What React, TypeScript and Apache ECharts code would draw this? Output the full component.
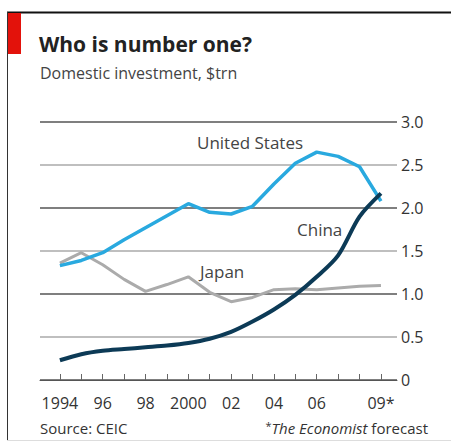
import React, { useEffect, useRef } from "react";
import * as echarts from "echarts";

const years = [1994, 1995, 1996, 1997, 1998, 1999, 2000, 2001, 2002, 2003, 2004, 2005, 2006, 2007, 2008, 2009];
const unitedStates = [1.33, 1.39, 1.48, 1.63, 1.77, 1.91, 2.05, 1.95, 1.93, 2.02, 2.28, 2.52, 2.65, 2.6, 2.48, 2.08];
const japan = [1.36, 1.48, 1.34, 1.17, 1.03, 1.11, 1.2, 1.02, 0.91, 0.96, 1.05, 1.06, 1.05, 1.07, 1.09, 1.1];
const china = [0.23, 0.3, 0.34, 0.36, 0.38, 0.4, 0.43, 0.48, 0.56, 0.68, 0.82, 0.99, 1.2, 1.45, 1.9, 2.17];
const xLabelYears = [1994, 1996, 1998, 2000, 2002, 2004, 2006, 2009];
const xLabelText: Record<number, string> = { 1994: "1994", 1996: "96", 1998: "98", 2000: "2000", 2002: "02", 2004: "04", 2006: "06", 2009: "09*" };

const FONT = "'Open Sans', sans-serif";

export default function App() {
  const ref = useRef<HTMLDivElement>(null);
  useEffect(() => {
    const chart = echarts.init(ref.current!, null, { renderer: "svg" });
    const pair = (arr: number[]) => years.map((y, i) => [y, arr[i]]);
    chart.setOption({
      animation: false,
      backgroundColor: "#ffffff",
      textStyle: { fontFamily: FONT },
      grid: { left: 40, right: 54, top: 122, bottom: 63, containLabel: false },
      xAxis: {
        type: "value",
        min: 1993.07,
        max: 2009.75,
        axisLine: { show: true, lineStyle: { color: "#555", width: 1 } },
        axisTick: { show: true, inside: true, length: 6, lineStyle: { color: "#666", width: 1 }, customValues: years },
        axisLabel: {
          customValues: xLabelYears,
          formatter: (v: number) => xLabelText[v] ?? "",
          color: "#333",
          fontSize: 16,
          fontFamily: FONT,
          margin: 15,
        },
        splitLine: { show: false },
      },
      yAxis: {
        type: "value",
        position: "right",
        min: 0,
        max: 3,
        interval: 0.5,
        axisLine: { show: false },
        axisTick: { show: false },
        axisLabel: {
          formatter: (v: number) => (v === 0 ? "0" : v.toFixed(1)),
          color: "#333",
          fontSize: 16,
          fontFamily: FONT,
          margin: 4,
          align: "left",
        },
        splitLine: { show: true, lineStyle: { color: ["#555", "#aaa", "#555", "#aaa", "#555", "#aaa", "#555"], width: 1.5 } },
      },
      series: [
        { name: "Japan", type: "line", data: pair(japan), symbol: "none", lineStyle: { color: "#ababab", width: 3 }, z: 2 },
        { name: "United States", type: "line", data: pair(unitedStates), symbol: "none", lineStyle: { color: "#29a9df", width: 3.5 }, z: 3 },
        { name: "China", type: "line", data: pair(china), symbol: "none", smooth: 0.3, lineStyle: { color: "#0c3a56", width: 4 }, z: 4 },
      ],
      graphic: [
        { type: "line", shape: { x1: 7, y1: 12.5, x2: 451, y2: 12.5 }, style: { stroke: "#111", lineWidth: 2 } },
        { type: "line", shape: { x1: 7.5, y1: 12, x2: 7.5, y2: 441 }, style: { stroke: "#333", lineWidth: 1 } },
        { type: "line", shape: { x1: 7, y1: 440.5, x2: 451, y2: 440.5 }, style: { stroke: "#ddd", lineWidth: 1 } },
        { type: "rect", shape: { x: 8, y: 13, width: 13, height: 41 }, style: { fill: "#e3120b" } },
        { type: "text", left: 39, top: 33, style: { text: "Who is number one?", fontSize: 21, fontWeight: "bold", fill: "#222", fontFamily: FONT } },
        { type: "text", left: 40, top: 65, style: { text: "Domestic investment, $trn", fontSize: 16, fill: "#444", fontFamily: FONT } },
        { type: "text", left: 197, top: 134, style: { text: "United States", fontSize: 17, fill: "#444", fontFamily: FONT } },
        { type: "text", left: 297, top: 221, style: { text: "China", fontSize: 17, fill: "#444", fontFamily: FONT } },
        { type: "text", left: 200, top: 263, style: { text: "Japan", fontSize: 17, fill: "#444", fontFamily: FONT } },
        { type: "text", left: 40, top: 420, style: { text: "Source: CEIC", fontSize: 15, fill: "#333", fontFamily: FONT } },
        {
          type: "text",
          right: 23,
          top: 420,
          style: {
            text: "{a|*}{i|The Economist} forecast",
            fontSize: 15,
            fill: "#333",
            fontFamily: FONT,
            rich: { a: { fontSize: 11, fill: "#333", fontFamily: FONT, verticalAlign: "top" }, i: { fontStyle: "italic", fontSize: 15, fill: "#333", fontFamily: FONT } },
          },
        },
      ],
    });
    return () => chart.dispose();
  }, []);
  return <div ref={ref} style={{ position: "fixed", left: 0, top: 0, width: 451, height: 443 }} />;
}
